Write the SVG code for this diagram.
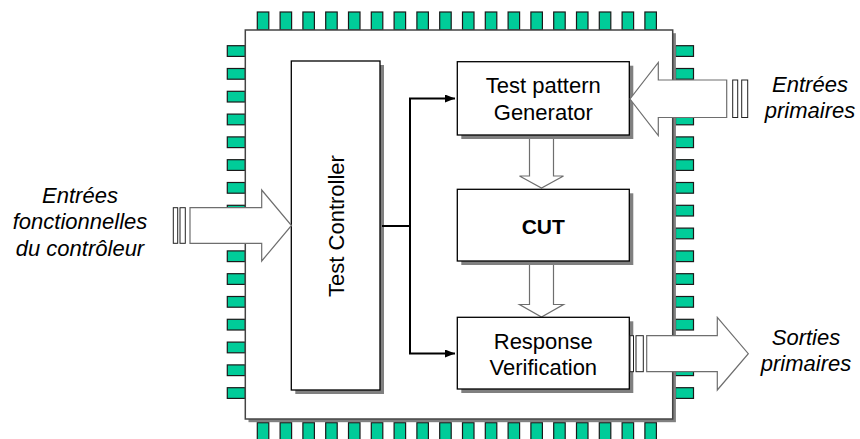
<svg xmlns="http://www.w3.org/2000/svg" width="860" height="439" viewBox="0 0 860 439">
<style>
.pin{fill:#00cc99;stroke:#1a1a1a;stroke-width:1.2}
.box{fill:#fff;stroke:#000;stroke-width:1.3}
.shadow{fill:#808080}
.chip{fill:#fff;stroke:#444;stroke-width:1.5}
.barrow{fill:#fff;stroke:#6e6e6e;stroke-width:1.2}
.bar{fill:#fff;stroke:#222;stroke-width:1}
.lbl{font-family:"Liberation Sans",Arial,sans-serif;font-size:22px;fill:#000;text-anchor:middle}
.ext{font-family:"Liberation Sans",Arial,sans-serif;font-size:22px;font-style:italic;fill:#000;text-anchor:middle}
.wire{fill:none;stroke:#000;stroke-width:2}
</style>
<defs>
<marker id="ah" markerWidth="10" markerHeight="8" refX="10" refY="4" orient="auto" markerUnits="userSpaceOnUse">
<path d="M0,0 L10,4 L0,8 Z" fill="#000"/>
</marker>
</defs>
<rect width="860" height="439" fill="#fff"/>
<g id="chip">
<g id="pins-top">
<rect class="pin" x="257.3" y="12" width="11.5" height="18"/>
<rect class="pin" x="280.1" y="12" width="11.5" height="18"/>
<rect class="pin" x="302.9" y="12" width="11.5" height="18"/>
<rect class="pin" x="325.7" y="12" width="11.5" height="18"/>
<rect class="pin" x="348.5" y="12" width="11.5" height="18"/>
<rect class="pin" x="371.3" y="12" width="11.5" height="18"/>
<rect class="pin" x="394.1" y="12" width="11.5" height="18"/>
<rect class="pin" x="416.9" y="12" width="11.5" height="18"/>
<rect class="pin" x="439.7" y="12" width="11.5" height="18"/>
<rect class="pin" x="462.5" y="12" width="11.5" height="18"/>
<rect class="pin" x="485.3" y="12" width="11.5" height="18"/>
<rect class="pin" x="508.1" y="12" width="11.5" height="18"/>
<rect class="pin" x="530.9" y="12" width="11.5" height="18"/>
<rect class="pin" x="553.7" y="12" width="11.5" height="18"/>
<rect class="pin" x="576.5" y="12" width="11.5" height="18"/>
<rect class="pin" x="599.3" y="12" width="11.5" height="18"/>
<rect class="pin" x="622.1" y="12" width="11.5" height="18"/>
<rect class="pin" x="644.9" y="12" width="11.5" height="18"/>
</g>
<g id="pins-bottom">
<rect class="pin" x="257.3" y="422.7" width="11.5" height="20"/>
<rect class="pin" x="280.1" y="422.7" width="11.5" height="20"/>
<rect class="pin" x="302.9" y="422.7" width="11.5" height="20"/>
<rect class="pin" x="325.7" y="422.7" width="11.5" height="20"/>
<rect class="pin" x="348.5" y="422.7" width="11.5" height="20"/>
<rect class="pin" x="371.3" y="422.7" width="11.5" height="20"/>
<rect class="pin" x="394.1" y="422.7" width="11.5" height="20"/>
<rect class="pin" x="416.9" y="422.7" width="11.5" height="20"/>
<rect class="pin" x="439.7" y="422.7" width="11.5" height="20"/>
<rect class="pin" x="462.5" y="422.7" width="11.5" height="20"/>
<rect class="pin" x="485.3" y="422.7" width="11.5" height="20"/>
<rect class="pin" x="508.1" y="422.7" width="11.5" height="20"/>
<rect class="pin" x="530.9" y="422.7" width="11.5" height="20"/>
<rect class="pin" x="553.7" y="422.7" width="11.5" height="20"/>
<rect class="pin" x="576.5" y="422.7" width="11.5" height="20"/>
<rect class="pin" x="599.3" y="422.7" width="11.5" height="20"/>
<rect class="pin" x="622.1" y="422.7" width="11.5" height="20"/>
<rect class="pin" x="644.9" y="422.7" width="11.5" height="20"/>
</g>
<g id="pins-left">
<rect class="pin" x="227.3" y="45.7" width="18" height="10.7"/>
<rect class="pin" x="227.3" y="68.5" width="18" height="10.7"/>
<rect class="pin" x="227.3" y="91.3" width="18" height="10.7"/>
<rect class="pin" x="227.3" y="114.1" width="18" height="10.7"/>
<rect class="pin" x="227.3" y="136.9" width="18" height="10.7"/>
<rect class="pin" x="227.3" y="159.7" width="18" height="10.7"/>
<rect class="pin" x="227.3" y="182.5" width="18" height="10.7"/>
<rect class="pin" x="227.3" y="205.3" width="18" height="10.7"/>
<rect class="pin" x="227.3" y="228.1" width="18" height="10.7"/>
<rect class="pin" x="227.3" y="250.9" width="18" height="10.7"/>
<rect class="pin" x="227.3" y="273.7" width="18" height="10.7"/>
<rect class="pin" x="227.3" y="296.5" width="18" height="10.7"/>
<rect class="pin" x="227.3" y="319.3" width="18" height="10.7"/>
<rect class="pin" x="227.3" y="342.1" width="18" height="10.7"/>
<rect class="pin" x="227.3" y="364.9" width="18" height="10.7"/>
<rect class="pin" x="227.3" y="387.7" width="18" height="10.7"/>
</g>
<g id="pins-right">
<rect class="pin" x="675.5" y="45.7" width="18" height="10.7"/>
<rect class="pin" x="675.5" y="68.5" width="18" height="10.7"/>
<rect class="pin" x="675.5" y="91.3" width="18" height="10.7"/>
<rect class="pin" x="675.5" y="114.1" width="18" height="10.7"/>
<rect class="pin" x="675.5" y="136.9" width="18" height="10.7"/>
<rect class="pin" x="675.5" y="159.7" width="18" height="10.7"/>
<rect class="pin" x="675.5" y="182.5" width="18" height="10.7"/>
<rect class="pin" x="675.5" y="205.3" width="18" height="10.7"/>
<rect class="pin" x="675.5" y="228.1" width="18" height="10.7"/>
<rect class="pin" x="675.5" y="250.9" width="18" height="10.7"/>
<rect class="pin" x="675.5" y="273.7" width="18" height="10.7"/>
<rect class="pin" x="675.5" y="296.5" width="18" height="10.7"/>
<rect class="pin" x="675.5" y="319.3" width="18" height="10.7"/>
<rect class="pin" x="675.5" y="342.1" width="18" height="10.7"/>
<rect class="pin" x="675.5" y="364.9" width="18" height="10.7"/>
<rect class="pin" x="675.5" y="387.7" width="18" height="10.7"/>
</g>
<rect class="shadow" x="248.5" y="33.2" width="427.4" height="389"/>
<rect class="chip" x="245.3" y="30" width="427.4" height="389"/>
</g>
<g id="internal-arrows">
<polygon class="barrow" points="529.5,134 553.5,134 553.5,176 563.5,176 541.5,188 519.5,176 529.5,176"/>
<polygon class="barrow" points="529.5,258 553.5,258 553.5,304.5 563.5,304.5 541.5,317 519.5,304.5 529.5,304.5"/>
</g>
<g id="test-controller">
<rect class="shadow" x="295.3" y="65" width="88.7" height="329"/>
<rect class="box" x="291.3" y="61" width="88.7" height="329"/>
<text class="lbl" transform="rotate(-90 343.5 226)" x="343.5" y="226">Test Controller</text>
</g>
<g id="tpg">
<rect class="shadow" x="461.3" y="65.7" width="172" height="73.3"/>
<rect class="box" x="457.3" y="61.7" width="172" height="73.3"/>
<text class="lbl" x="543.3" y="93.3">Test pattern</text>
<text class="lbl" x="543.3" y="120">Generator</text>
</g>
<g id="cut">
<rect class="shadow" x="461.3" y="193.3" width="172" height="71.7"/>
<rect class="box" x="457.3" y="189.3" width="172" height="71.7"/>
<text class="lbl" x="543.3" y="234" style="font-weight:bold;font-size:21px">CUT</text>
</g>
<g id="rv">
<rect class="shadow" x="461.3" y="321.3" width="172" height="71.7"/>
<rect class="box" x="457.3" y="317.3" width="172" height="71.7"/>
<text class="lbl" x="543.3" y="349.3">Response</text>
<text class="lbl" x="543.3" y="375">Verification</text>
</g>
<g id="connectors">
<polyline class="wire" points="382,226 410,226"/>
<polyline class="wire" points="410,353.5 410,98.5 455,98.5" marker-end="url(#ah)"/>
<polyline class="wire" points="410,226 410,353.5 455,353.5" marker-end="url(#ah)"/>
</g>
<g id="input-controller">
<rect class="bar" x="173.3" y="207.7" width="4.4" height="35.6"/>
<rect class="bar" x="180" y="207.7" width="5.3" height="35.6"/>
<polygon class="barrow" points="190,207.7 261.7,207.7 261.7,190 291.5,225.5 261.7,261 261.7,243.3 190,243.3"/>
<text class="ext" x="80" y="202.7">Entrées</text>
<text class="ext" x="80" y="229.3">fonctionnelles</text>
<text class="ext" x="80" y="255.7">du contrôleur</text>
</g>
<g id="input-primary">
<rect class="bar" x="732.7" y="80" width="5" height="37.5"/>
<rect class="bar" x="741.7" y="80" width="6" height="37.5"/>
<polygon class="barrow" points="726.7,80 658.3,80 658.3,62.5 630,99 658.3,135.5 658.3,117.5 726.7,117.5"/>
<text class="ext" x="810" y="91.7">Entrées</text>
<text class="ext" x="810" y="118.3">primaires</text>
</g>
<g id="output-primary">
<rect class="bar" x="630" y="335.7" width="3.5" height="36"/>
<rect class="bar" x="636" y="335.7" width="7.3" height="36"/>
<polygon class="barrow" points="646.7,335.7 717.3,335.7 717.3,317.3 748.3,353.7 717.3,390 717.3,371.7 646.7,371.7"/>
<text class="ext" x="806" y="345">Sorties</text>
<text class="ext" x="806" y="371">primaires</text>
</g>
</svg>
